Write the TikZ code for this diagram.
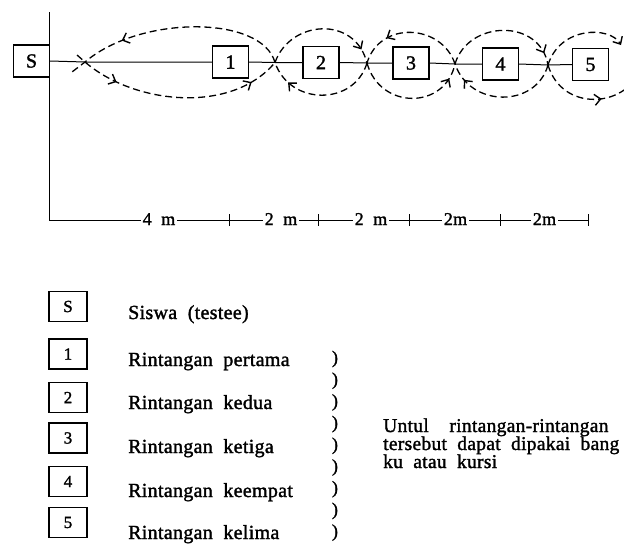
\documentclass[tikz,border=0pt]{standalone}
\usepackage{fontspec}
\setmainfont{Liberation Serif}[LetterSpace=1.5,WordSpace=2,FakeBold=1.5]
\usetikzlibrary{arrows.meta,decorations.markings}
\tikzset{mybarb/.tip={Straight Barb[length=6pt,width=11pt,line width=1.4pt]}}
\begin{document}
\begin{tikzpicture}[x=1pt,y=-1pt,
  box/.style={draw,line width=1.2pt,minimum width=36pt,minimum height=32pt,inner sep=0pt,font=\fontsize{20}{20}\selectfont},
  lbox/.style={draw,line width=1.2pt,minimum width=38pt,minimum height=30pt,inner sep=0pt,font=\fontsize{17}{17}\selectfont},
  txt/.style={anchor=base west,inner sep=0pt,font=\fontsize{20}{20}\selectfont},
  rtxt/.style={anchor=base west,inner sep=0pt,font=\fontsize{19.5}{19.5}\selectfont},
  stxt/.style={anchor=base,inner sep=2pt,font=\fontsize{18}{18}\selectfont},
  par/.style={inner sep=0pt,font=\fontsize{18}{18}\selectfont},
  solidline/.style={line width=1pt},
  loopline/.style={dash pattern=on 7pt off 4pt,line width=1.3pt},
  tip1/.style={postaction={decorate},decoration={markings,mark=at position #1 with {\arrow{mybarb}}}},
  tip2/.style 2 args={postaction={decorate},decoration={markings,mark=at position #1 with {\arrow{mybarb}},mark=at position #2 with {\arrow{mybarb}}}}
]
\useasboundingbox (0,0) rectangle (624,547);
\fill[white] (0,0) rectangle (624,547);

% ---- track ----
\coordinate (top) at (49,12);
\coordinate (corner) at (49,220);
\draw[solidline] (top) -- (corner);

\node[box] (S)  at (31.5,61)  {S};
\node[box] (b1) at (230.5,62) {1};
\node[box] (b2) at (321,62.5) {2};
\node[box] (b3) at (411,63)   {3};
\node[box] (b4) at (500.5,64) {4};
\node[box] (b5) at (590.5,64.5) {5};

\coordinate (A) at (85,62);
\coordinate (B) at (275,62.5);
\coordinate (C) at (367,63);
\coordinate (D) at (455,64);
\coordinate (E) at (548,65);
\coordinate (tA1) at (77,55);
\coordinate (tA2) at (72,72);

\draw[solidline] (S.east) -- (A) -- (b1.west);
\draw[solidline] (b1.east) -- (B) -- (b2.west);
\draw[solidline] (b2.east) -- (C) -- (b3.west);
\draw[solidline] (b3.east) -- (D) -- (b4.west);
\draw[solidline] (b4.east) -- (E) -- (b5.west);

% forward path
\draw[loopline,tip2={0.22}{0.86}] (tA1) -- (A) .. controls (135,105) and (232,114) .. (B);
\draw[loopline,tip1={0.88}] (B) .. controls (290,20) and (355,15) .. (C);
\draw[loopline,tip1={0.87}] (C) .. controls (380,110) and (445,110) .. (D);
\draw[loopline,tip1={0.9}] (D) .. controls (468,20) and (540,18) .. (E);
\draw[loopline,tip1={0.58}] (E) .. controls (562,112) and (625,108) .. (640,70);
% return path
\draw[loopline,-mybarb] (E) .. controls (560,26) and (610,26) .. (621,45);
\draw[loopline,tip1={0.85}] (E) .. controls (536,108) and (470,108) .. (D);
\draw[loopline,tip1={0.72}] (D) .. controls (442,24) and (380,20) .. (C);
\draw[loopline,tip1={0.8}] (C) .. controls (354,106) and (290,106) .. (B);
\draw[loopline,tip1={0.74}] (B) .. controls (262,15) and (140,15) .. (A) -- (tA2);

% ---- distance scale ----
\node[stxt] (m1) at (159,225) {4 m};
\node[stxt] (m2) at (281,225) {2 m};
\node[stxt] (m3) at (371,225) {2 m};
\node[stxt] (m4) at (455.5,225) {2m};
\node[stxt] (m5) at (544.5,225) {2m};
\coordinate (endt) at (588,220);
\draw[solidline] (corner) -- (m1.west |- corner);
\draw[solidline] (m1.east |- corner) -- (m2.west |- corner);
\draw[solidline] (m2.east |- corner) -- (m3.west |- corner);
\draw[solidline] (m3.east |- corner) -- (m4.west |- corner);
\draw[solidline] (m4.east |- corner) -- (m5.west |- corner);
\draw[solidline] (m5.east |- corner) -- (endt);
\foreach \tx in {229,318,409,500,588}
  \draw[solidline] (\tx,214) -- (\tx,226);

% ---- legend ----
\node[lbox] (lS) at (68,306.5) {S};
\node[lbox] (l1) at (68,354) {1};
\node[lbox] (l2) at (68,397.5) {2};
\node[lbox] (l3) at (68,438) {3};
\node[lbox] (l4) at (68,481.5) {4};
\node[lbox] (l5) at (68,522.5) {5};

\node[txt] (tS) at (128,319) {Siswa (testee)};
\node[txt] (t1) at (128,366) {Rintangan pertama};
\node[txt] (t2) at (128,409) {Rintangan kedua};
\node[txt] (t3) at (128,453) {Rintangan ketiga};
\node[txt] (t4) at (128,497) {Rintangan keempat};
\node[txt] (t5) at (128,539) {Rintangan kelima};

\foreach \k in {0,...,8}
  \node[par] (p\k) at (335,359+21.7*\k) {)};

\node[rtxt] (r1) at (383,432) {Untul\ \ rintangan-rintangan};
\node[rtxt] (r2) at (383,450) {tersebut dapat dipakai bang};
\node[rtxt] (r3) at (383,468) {ku atau kursi};
\end{tikzpicture}
\end{document}
